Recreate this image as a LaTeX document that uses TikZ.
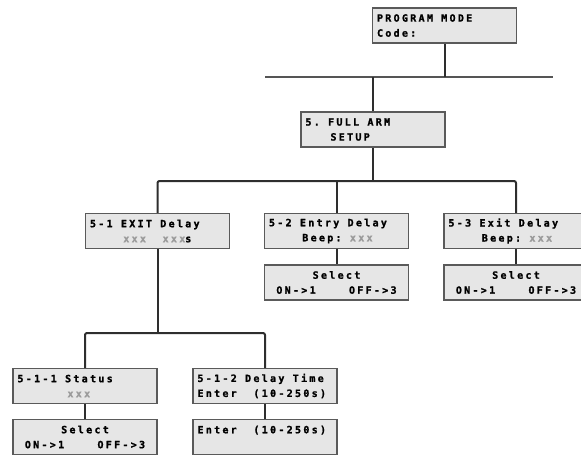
\documentclass[tikz,border=0pt]{standalone}
\usepackage{fontspec}
\newfontfamily\lcd{DejaVu Sans Mono Bold}[LetterSpace=23,FakeBold=1.3]
\definecolor{boxfill}{HTML}{E6E6E6}
\definecolor{boxline}{HTML}{5A5A5A}
\definecolor{connline}{HTML}{2E2E2E}
\definecolor{barline}{HTML}{555555}
\definecolor{xgray}{HTML}{9A9A9A}
\newlength\chw
\setlength\chw{8.33pt}
\newcommand\gp[1]{\hspace*{#1\chw}}
\newcommand\spc{\hspace*{\chw}}
\newcommand\xx{\textcolor{xgray}{xxx}}
\tikzset{
  lcdbox/.style={draw=boxline, fill=boxfill, line width=1.3pt,
    minimum height=35pt, inner xsep=4.5pt, inner ysep=0pt,
    text width=135pt, align=left,
    font=\lcd\fontsize{10}{15}\selectfont},
  selbox/.style={lcdbox, align=center},
  conn/.style={draw=connline, line width=2pt},
  bar/.style={draw=barline, line width=2.2pt}
}
\begin{document}
\begin{tikzpicture}[x=1pt,y=-1pt]
\useasboundingbox (0,0) rectangle (581,456);
\clip (0,0) rectangle (581,456);
% nodes
\node[lcdbox] (pm) at (444.5,25.5) {PROGRAM\spc MODE\\Code:};
\node[lcdbox] (fa) at (373,129.5) {5.\spc FULL\spc ARM\\\gp{3}SETUP};
\node[lcdbox] (d1) at (157.5,231) {5-1\spc EXIT\spc Delay\\\gp{4}\xx\gp{2}\xx s};
\node[lcdbox] (d2) at (336.5,231) {5-2\spc Entry\spc Delay\\\gp{4}Beep:\spc\xx};
\node[lcdbox] (d3) at (516,231) {5-3\spc Exit\spc Delay\\\gp{4}Beep:\spc\xx};
\node[selbox] (s2) at (336.5,282.5) {Select\\ON->1\gp{4}OFF->3};
\node[selbox] (s3) at (516,282.5) {Select\\ON->1\gp{4}OFF->3};
\node[lcdbox] (d11) at (85,386) {5-1-1\spc Status\\\gp{6}\xx};
\node[lcdbox] (d12) at (265,386) {5-1-2\spc Delay\spc Time\\Enter\gp{2}(10-250s)};
\node[selbox] (s11) at (85,437) {Select\\ON->1\gp{4}OFF->3};
\node[lcdbox] (e12) at (265,437) {Enter\gp{2}(10-250s)\\\mbox{}};
% junctions
\coordinate (barL) at (265,77);
\coordinate (barR) at (553,77);
\coordinate (j1) at (372,181);
\coordinate (j2) at (157,333);
% connectors
\draw[bar] (barL) -- (barR);
\draw[conn] (pm.south) -- (pm.south |- barL);
\draw[conn] (fa.north) -- (fa.north |- barL);
\draw[conn] (fa.south) -- (fa.south |- j1);
\draw[conn, rounded corners=2pt] (d1.north) |- (j1) -| (d3.north);
\draw[conn] (d2.north) -- (d2.north |- j1);
\draw[conn] (d1.south) -- (d1.south |- j2);
\draw[conn, rounded corners=2pt] (d11.north) |- (j2) -| (d12.north);
\draw[conn] (d2.south) -- (s2.north);
\draw[conn] (d3.south) -- (s3.north);
\draw[conn] (d11.south) -- (s11.north);
\draw[conn] (d12.south) -- (e12.north);
\end{tikzpicture}
\end{document}
